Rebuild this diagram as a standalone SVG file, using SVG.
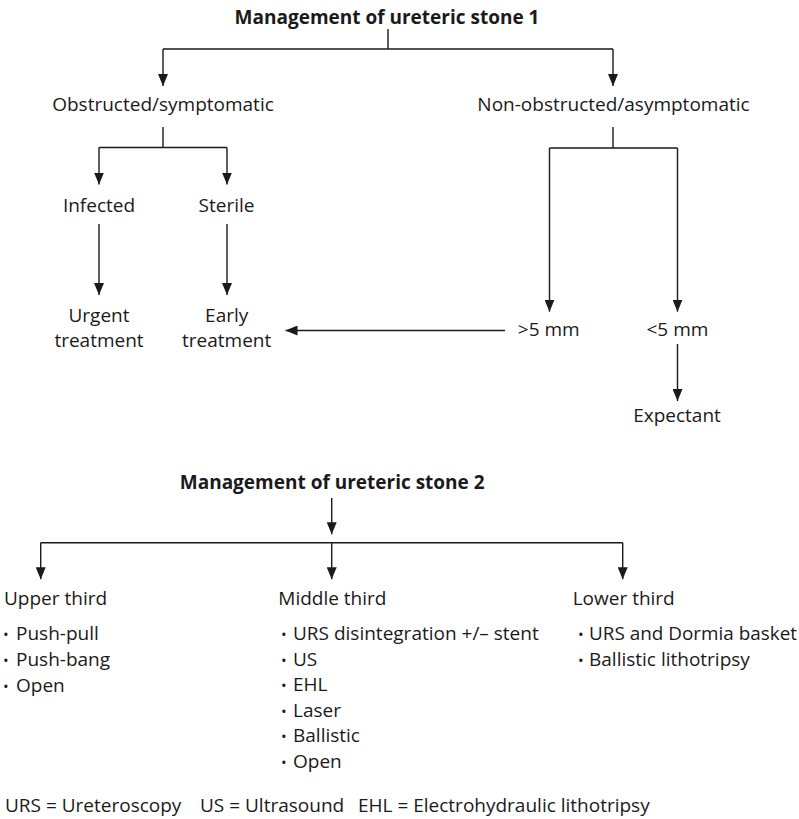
<svg xmlns="http://www.w3.org/2000/svg" width="799" height="819" viewBox="0 0 799 819">
<defs>
<style>
text{font-family:"Open Sans","Noto Sans","Liberation Sans",sans-serif;font-size:19px;fill:#1a1a1a}
.t{font-weight:bold}
.c{text-anchor:middle}
.b{font-size:15px}
.ln{fill:none;stroke:#1a1a1a;stroke-width:1.4}
.ar{marker-end:url(#ah)}
</style>
<marker id="ah" viewBox="0 0 12 10" refX="12" refY="5" markerWidth="12" markerHeight="10" markerUnits="userSpaceOnUse" orient="auto">
<path d="M0,0 L12,5 L0,10 z" fill="#1a1a1a"/>
</marker>
</defs>
<rect width="799" height="819" fill="#fff"/>
<g id="connectors">
<path class="ln" d="M388,29 V49 M163,49 H613"/>
<path class="ln ar" d="M163,49 V86"/>
<path class="ln ar" d="M613,49 V86"/>
<path class="ln" d="M163,127 V147.5 M99,147.5 H227"/>
<path class="ln ar" d="M99,147.5 V184.5"/>
<path class="ln ar" d="M227,147.5 V184.5"/>
<path class="ln ar" d="M99,224 V295"/>
<path class="ln ar" d="M227,224 V295"/>
<path class="ln ar" d="M505,330.5 H285.5"/>
<path class="ln" d="M613,127 V148 M549.5,148 H677.5"/>
<path class="ln ar" d="M549.5,148 V311.7"/>
<path class="ln ar" d="M677.5,148 V311.7"/>
<path class="ln ar" d="M677.5,344 V401"/>
<path class="ln ar" d="M331.7,498 V534.3"/>
<path class="ln" d="M40.7,542.7 H622.7"/>
<path class="ln ar" d="M40.7,542.7 V579.3"/>
<path class="ln ar" d="M331.7,542.7 V579.3"/>
<path class="ln ar" d="M622.7,542.7 V579.3"/>
</g>
<g id="title1"><text class="t c" x="387" y="24">Management of ureteric stone 1</text></g>
<g id="obstructed"><text class="c" x="163" y="111">Obstructed/symptomatic</text></g>
<g id="nonobstructed"><text class="c" x="613.5" y="111">Non-obstructed/asymptomatic</text></g>
<g id="infected"><text class="c" x="99" y="212">Infected</text></g>
<g id="sterile"><text class="c" x="226.5" y="212">Sterile</text></g>
<g id="urgent"><text class="c" x="99" y="321.7">Urgent</text><text class="c" x="99" y="347.3">treatment</text></g>
<g id="early"><text class="c" x="226.7" y="321.7">Early</text><text class="c" x="226.7" y="347.3">treatment</text></g>
<g id="gt5"><text class="c" x="548.7" y="336">&gt;5 mm</text></g>
<g id="lt5"><text class="c" x="677.4" y="336">&lt;5 mm</text></g>
<g id="expectant"><text class="c" x="677" y="422">Expectant</text></g>
<g id="title2"><text class="t c" x="332.2" y="489.3">Management of ureteric stone 2</text></g>
<g id="upper">
<text x="4" y="605">Upper third</text>
<text y="640"><tspan class="b" x="3">•</tspan><tspan x="16">Push-pull</tspan></text>
<text y="666"><tspan class="b" x="3">•</tspan><tspan x="16">Push-bang</tspan></text>
<text y="691.5"><tspan class="b" x="3">•</tspan><tspan x="16">Open</tspan></text>
</g>
<g id="middle">
<text x="278.3" y="605">Middle third</text>
<text y="640"><tspan class="b" x="281">•</tspan><tspan x="293">URS disintegration +/– stent</tspan></text>
<text y="665.5"><tspan class="b" x="281">•</tspan><tspan x="293">US</tspan></text>
<text y="691"><tspan class="b" x="281">•</tspan><tspan x="293">EHL</tspan></text>
<text y="716.5"><tspan class="b" x="281">•</tspan><tspan x="293">Laser</tspan></text>
<text y="742"><tspan class="b" x="281">•</tspan><tspan x="293">Ballistic</tspan></text>
<text y="767.5"><tspan class="b" x="281">•</tspan><tspan x="293">Open</tspan></text>
</g>
<g id="lower">
<text x="572.7" y="605">Lower third</text>
<text y="640"><tspan class="b" x="578">•</tspan><tspan x="589" textLength="208" lengthAdjust="spacingAndGlyphs">URS and Dormia basket</tspan></text>
<text y="666"><tspan class="b" x="578">•</tspan><tspan x="589">Ballistic lithotripsy</tspan></text>
</g>
<g id="footer">
<text x="5" y="812">URS = Ureteroscopy</text>
<text x="200" y="812">US = Ultrasound</text>
<text x="358" y="812">EHL = Electrohydraulic lithotripsy</text>
</g>
</svg>
